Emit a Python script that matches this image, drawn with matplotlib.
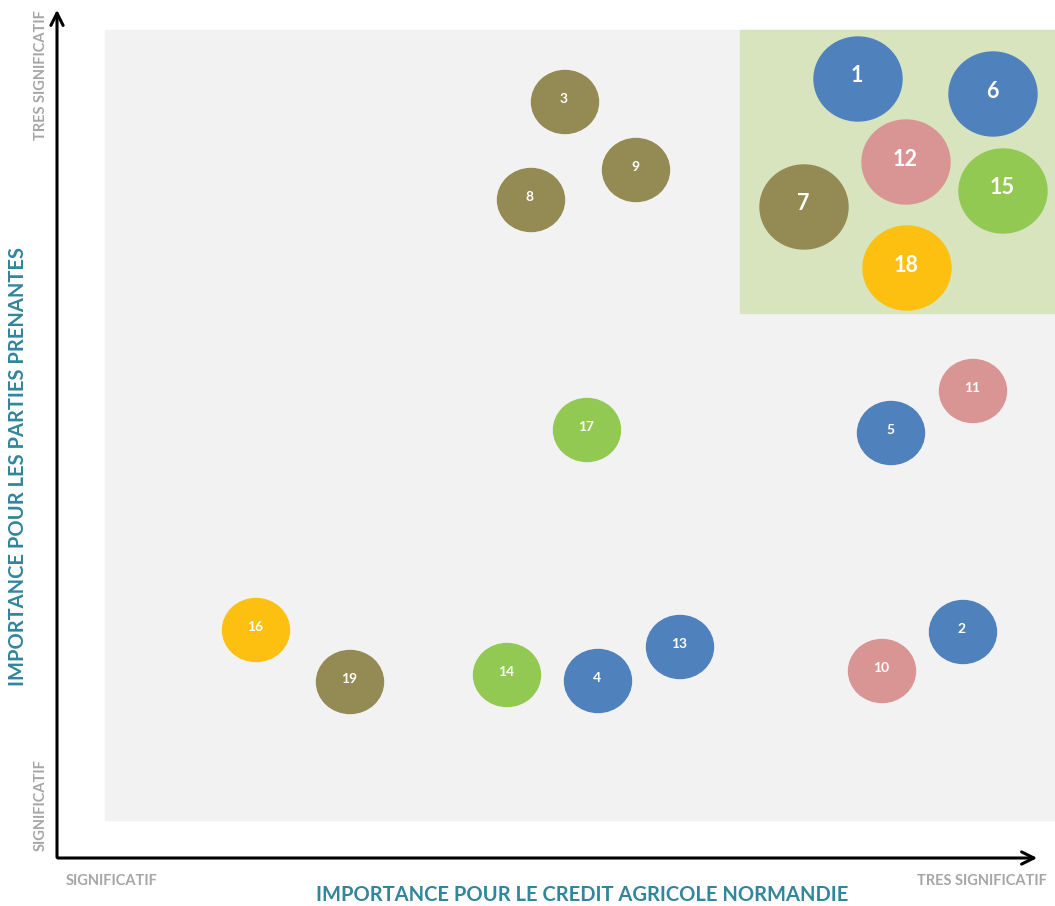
import matplotlib.pyplot as plt
from matplotlib.patches import Ellipse, Rectangle

ids = ['1', '6', '12', '15', '7', '18',
       '3', '9', '8', '17', '11', '5',
       '16', '19', '14', '4', '13', '2', '10']
x_vals = [858, 993, 906, 1003, 804, 907,
          565, 636, 531, 587, 973, 891,
          256, 350, 507, 598, 680, 963, 882]
y_vals = [827, 812, 744, 715, 699, 638,
          804, 736, 706, 476, 515, 473,
          276, 224, 231, 225, 259, 274, 235]
big = [True] * 6 + [False] * 13
groups = ['blue', 'blue', 'pink', 'green', 'olive', 'yellow',
          'olive', 'olive', 'olive', 'green', 'pink', 'blue',
          'yellow', 'olive', 'green', 'blue', 'blue', 'blue', 'pink']

colors = {'blue': '#4F81BD', 'pink': '#D99594', 'olive': '#948A54',
          'green': '#92C952', 'yellow': '#FDC010'}

plt.rcParams['font.family'] = ['Lato', 'DejaVu Sans']

fig = plt.figure(figsize=(10.55, 9.06), dpi=100)
ax = fig.add_axes([0, 0, 1, 1])
ax.set_xlim(0, 1055)
ax.set_ylim(0, 906)
ax.axis('off')

# background zones
ax.add_patch(Rectangle((105, 86), 950, 790, color='#F2F2F2', zorder=0))
ax.add_patch(Rectangle((740, 593), 315, 283, color='#D7E4BD', zorder=1))

# axes arrows
ax.annotate('', xy=(1040, 48), xytext=(55, 48),
            arrowprops=dict(arrowstyle='->', lw=2.2, color='black', mutation_scale=22))
ax.annotate('', xy=(57, 899), xytext=(57, 46),
            arrowprops=dict(arrowstyle='->', lw=2.2, color='black', mutation_scale=22))

# bubbles
for i in range(len(ids)):
    w, h = (88, 84) if big[i] else (67, 63)
    ax.add_patch(Ellipse((x_vals[i], y_vals[i]), w, h,
                         color=colors[groups[i]], zorder=3))
    ax.text(x_vals[i] - 1, y_vals[i] + 3, ids[i], color='white',
            fontsize=15.5 if big[i] else 10, fontweight='bold',
            ha='center', va='center', zorder=4)

grey = '#A6A6A6'
teal = '#31859C'
ax.text(41, 831, 'TRES SIGNIFICATIF', rotation=90, color=grey, fontsize=10.5,
        fontweight='bold', ha='center', va='center')
ax.text(41, 101, 'SIGNIFICATIF', rotation=90, color=grey, fontsize=10.5,
        fontweight='bold', ha='center', va='center')
ax.text(112, 25, 'SIGNIFICATIF', color=grey, fontsize=10.5, fontweight='bold',
        ha='center', va='center')
ax.text(982, 25, 'TRES SIGNIFICATIF', color=grey, fontsize=10.5, fontweight='bold',
        ha='center', va='center')

ax.text(582, 11, 'IMPORTANCE POUR LE CREDIT AGRICOLE NORMANDIE', color=teal,
        fontsize=14.5, fontweight='bold', ha='center', va='center')
ax.text(18, 440, 'IMPORTANCE POUR LES PARTIES PRENANTES', rotation=90, color=teal,
        fontsize=14.5, fontweight='bold', ha='center', va='center')

fig.savefig('out.png', dpi=100)
